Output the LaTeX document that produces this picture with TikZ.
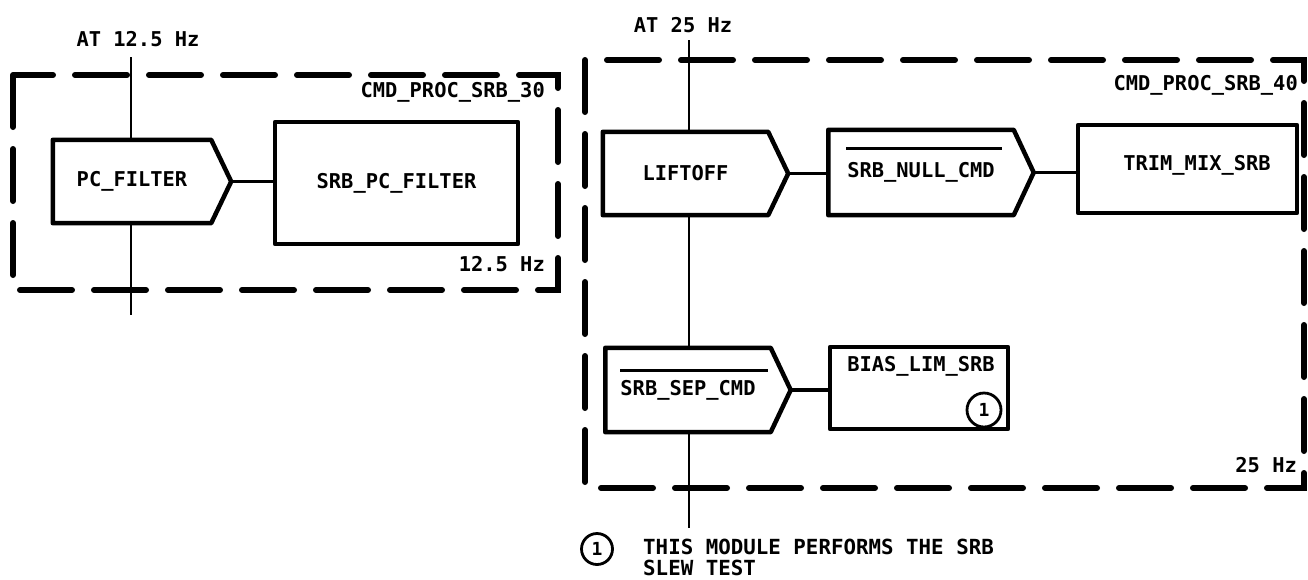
\documentclass[tikz,border=0pt]{standalone}
\usepackage{fontspec}
\setmonofont{DejaVu Sans Mono}
\usetikzlibrary{calc}
\newcommand\pentout[1]{\draw[boxline] (#1.north west) -- (#1.north east) -- ([xshift=20pt]#1.east) coordinate (#1tip) -- (#1.south east) -- (#1.south west) -- cycle;}
\begin{document}
\begin{tikzpicture}[x=1pt,y=-1pt,
  lbl/.style={font=\ttfamily\bfseries\fontsize{20.4}{22}\selectfont, inner sep=0pt},
  boxline/.style={line width=4.5pt, line join=round},
  rbox/.style={draw, boxline, inner sep=0pt, font=\ttfamily\bfseries\fontsize{20.4}{22}\selectfont},
  pbody/.style={inner sep=0pt, font=\ttfamily\bfseries\fontsize{20.4}{22}\selectfont},
  conn/.style={line width=3.5pt},
  vline/.style={line width=2.5pt},
  dashbox/.style={line width=6pt, line cap=round, dash pattern=on 52pt off 22pt},
  ovl/.style={line width=3pt},
  mark1/.style={circle, draw, line width=2.8pt, inner sep=0pt, font=\ttfamily\bfseries\fontsize{18}{20}\selectfont}
]
\useasboundingbox (0,0) rectangle (1308,579);

% ---------- left group ----------
\draw[dashbox] (13,75) rectangle (558,290);
\node[lbl] (at1) at (138,39) {AT 12.5 Hz};
\node[lbl, anchor=east] (cmd30) at (545,92) {CMD\_PROC\_SRB\_30};
\node[lbl, anchor=east] (hz30) at (545,264) {12.5 Hz};

\node[pbody, minimum width=158pt, minimum height=83pt] (pcf) at (132,181.5) {PC\_FILTER};
\pentout{pcf}
\node[rbox, minimum width=243pt, minimum height=122pt] (spf) at (396.5,183) {SRB\_PC\_FILTER};

\coordinate (t1) at (131,57);
\coordinate (b1) at (131,315);
\draw[vline] (t1) -- (t1 |- pcf.north);
\draw[vline] (pcf.south -| t1) -- (b1);
\draw[conn] (pcftip) -- (pcftip -| spf.west);

% ---------- right group ----------
\draw[dashbox] (585,60) rectangle (1304,488);
\node[lbl] (at2) at (683,25) {AT 25 Hz};
\node[lbl, anchor=east] (cmd40) at (1298,85) {CMD\_PROC\_SRB\_40};
\node[lbl, anchor=east] (hz40) at (1297,465) {25 Hz};

\node[pbody, minimum width=165pt, minimum height=83pt] (lift) at (685.5,173.5) {LIFTOFF};
\pentout{lift}
\node[pbody, minimum width=185pt, minimum height=85pt] (null) at (921,172.5) {SRB\_NULL\_CMD};
\pentout{null}
\draw[ovl] ([xshift=18pt,yshift=-19pt]null.north west) -- ([xshift=-12pt,yshift=-19pt]null.north east);
\node[rbox, minimum width=219pt, minimum height=88pt] (trim) at (1187.5,169) {};
\node[lbl] (trimt) at (1197,165) {TRIM\_MIX\_SRB};

\node[pbody, minimum width=165pt, minimum height=84pt] (sep) at (688,390) {SRB\_SEP\_CMD};
\pentout{sep}
\draw[ovl] ([xshift=15pt,yshift=-23pt]sep.north west) -- ([xshift=-3pt,yshift=-23pt]sep.north east);
\node[rbox, minimum width=178pt, minimum height=82pt] (bias) at (919,388) {};
\node[lbl] (biast) at (921,366) {BIAS\_LIM\_SRB};
\node[mark1, minimum size=34pt] (m1) at (984,410) {1};

\coordinate (t2) at (689,40);
\coordinate (b2) at (689,528);
\draw[vline] (t2) -- (t2 |- lift.north);
\draw[vline] (lift.south -| t2) -- (sep.north -| t2);
\draw[vline] (sep.south -| t2) -- (b2);
\draw[conn] (lifttip) -- (lifttip -| null.west);
\draw[conn] (nulltip) -- (nulltip -| trim.west);
\draw[conn] (septip) -- (septip -| bias.west);

% ---------- footnote ----------
\node[mark1, minimum size=31pt] (fn) at (597,549) {1};
\node[lbl, anchor=west, align=left, font=\ttfamily\bfseries\fontsize{20.8}{21}\selectfont] (fnt) at (643,557) {THIS MODULE PERFORMS THE SRB\\SLEW TEST};
\end{tikzpicture}
\end{document}
